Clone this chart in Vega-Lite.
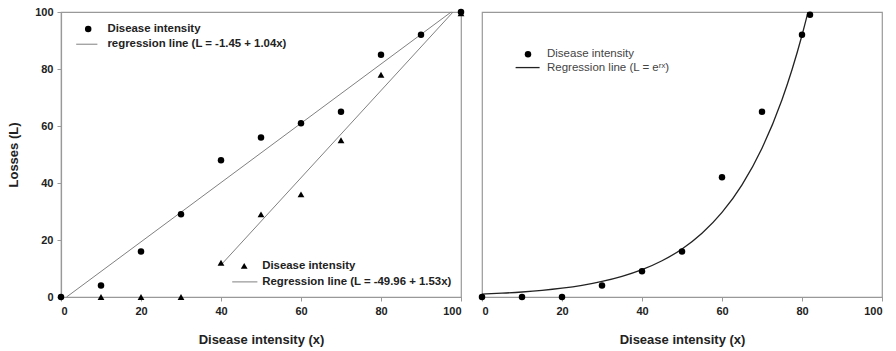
{
  "$schema": "https://vega.github.io/schema/vega-lite/v6.json",
  "background": "white",
  "padding": {"left": 7, "top": 5, "right": 0, "bottom": 0},
  "bounds": "flush",
  "spacing": 21,
  "config": {
    "view": {"stroke": "#999", "strokeWidth": 1.2},
    "axis": {
      "grid": false,
      "labelFont": "Liberation Sans",
      "labelFontWeight": "bold",
      "labelFontSize": 11,
      "labelColor": "#222",
      "titleFont": "Liberation Sans",
      "titleFontWeight": "bold",
      "titleFontSize": 13,
      "titleColor": "#222",
      "domainColor": "#999",
      "domainWidth": 1.2,
      "tickColor": "#999",
      "tickSize": 4
    },
    "text": {"font": "Liberation Sans", "fontSize": 11, "baseline": "middle", "align": "left"}
  },
  "datasets": {
    "circles": [
      {"x": 0, "L": 0}, {"x": 10, "L": 4}, {"x": 20, "L": 16}, {"x": 30, "L": 29},
      {"x": 40, "L": 48}, {"x": 50, "L": 56}, {"x": 60, "L": 61}, {"x": 70, "L": 65},
      {"x": 80, "L": 85}, {"x": 90, "L": 92}, {"x": 100, "L": 100}
    ],
    "triangles": [
      {"x": 10, "L": 0}, {"x": 20, "L": 0}, {"x": 30, "L": 0}, {"x": 40, "L": 12},
      {"x": 50, "L": 29}, {"x": 60, "L": 36}, {"x": 70, "L": 55}, {"x": 80, "L": 78},
      {"x": 100, "L": 99.5}
    ],
    "fitLinear": [
      {"fit": "a", "x": 1.39, "L": 0}, {"fit": "a", "x": 97.55, "L": 100},
      {"fit": "b", "x": 40, "L": 11.24}, {"fit": "b", "x": 98.01, "L": 100}
    ],
    "expPoints": [
      {"x": 0, "L": 0}, {"x": 10, "L": 0}, {"x": 20, "L": 0}, {"x": 30, "L": 4},
      {"x": 40, "L": 9}, {"x": 50, "L": 16}, {"x": 60, "L": 42}, {"x": 70, "L": 65},
      {"x": 80, "L": 92}, {"x": 82, "L": 99}
    ],
    "expCurve": [
      {"x": 0, "L": 1.0}, {"x": 5, "L": 1.33}, {"x": 10, "L": 1.76}, {"x": 15, "L": 2.33},
      {"x": 20, "L": 3.10}, {"x": 25, "L": 4.11}, {"x": 30, "L": 5.45}, {"x": 35, "L": 7.23},
      {"x": 40, "L": 9.58}, {"x": 45, "L": 12.71}, {"x": 50, "L": 16.86}, {"x": 55, "L": 22.37},
      {"x": 60, "L": 29.67}, {"x": 65, "L": 39.36}, {"x": 70, "L": 52.2}, {"x": 75, "L": 69.24},
      {"x": 77.5, "L": 79.74}, {"x": 80, "L": 91.84}, {"x": 81.5, "L": 99.96}
    ],
    "one": [{}]
  },
  "hconcat": [
    {
      "width": 400,
      "height": 285,
      "encoding": {
        "x": {"type": "quantitative", "scale": {"domain": [0, 100], "nice": false},
              "axis": {"values": [0, 20, 40, 60, 80, 100], "labelPadding": 4, "titlePadding": 17, "title": "Disease intensity (x)"}},
        "y": {"type": "quantitative", "scale": {"domain": [0, 100], "nice": false},
              "axis": {"values": [0, 20, 40, 60, 80, 100], "labelPadding": 4, "titlePadding": 14, "title": "Losses (L)"}}
      },
      "layer": [
        {
          "data": {"name": "fitLinear"},
          "mark": {"type": "line", "color": "#808080", "strokeWidth": 1},
          "encoding": {"x": {"field": "x"}, "y": {"field": "L"}, "detail": {"field": "fit"}}
        },
        {
          "data": {"name": "circles"},
          "mark": {"type": "point", "shape": "circle", "filled": true, "color": "black", "opacity": 1, "size": 42},
          "encoding": {"x": {"field": "x"}, "y": {"field": "L"}}
        },
        {
          "data": {"name": "triangles"},
          "mark": {"type": "point", "shape": "triangle-up", "filled": true, "color": "black", "opacity": 1, "size": 46},
          "encoding": {"x": {"field": "x"}, "y": {"field": "L"}}
        },
        {
          "data": {"name": "one"},
          "mark": {"type": "point", "shape": "circle", "filled": true, "color": "black", "opacity": 1, "size": 42},
          "encoding": {"x": {"datum": 6.8}, "y": {"datum": 94}}
        },
        {
          "data": {"name": "one"},
          "mark": {"type": "rule", "color": "#808080", "strokeWidth": 1},
          "encoding": {"x": {"datum": 3.8}, "x2": {"datum": 9.1}, "y": {"datum": 88.7}}
        },
        {
          "data": {"name": "one"},
          "mark": {"type": "text", "fontWeight": "bold", "color": "#222", "fontSize": 11.4},
          "encoding": {"x": {"datum": 11.6}, "y": {"datum": 94}, "text": {"value": "Disease intensity"}}
        },
        {
          "data": {"name": "one"},
          "mark": {"type": "text", "fontWeight": "bold", "color": "#222", "fontSize": 11.4},
          "encoding": {"x": {"datum": 11.6}, "y": {"datum": 88.7}, "text": {"value": "regression line (L = -1.45 + 1.04x)"}}
        },
        {
          "data": {"name": "one"},
          "mark": {"type": "point", "shape": "triangle-up", "filled": true, "color": "black", "opacity": 1, "size": 46},
          "encoding": {"x": {"datum": 45.8}, "y": {"datum": 10.9}}
        },
        {
          "data": {"name": "one"},
          "mark": {"type": "rule", "color": "#808080", "strokeWidth": 1},
          "encoding": {"x": {"datum": 42.8}, "x2": {"datum": 49.1}, "y": {"datum": 5.3}}
        },
        {
          "data": {"name": "one"},
          "mark": {"type": "text", "fontWeight": "bold", "color": "#222", "fontSize": 11.4},
          "encoding": {"x": {"datum": 50.3}, "y": {"datum": 10.9}, "text": {"value": "Disease intensity"}}
        },
        {
          "data": {"name": "one"},
          "mark": {"type": "text", "fontWeight": "bold", "color": "#222", "fontSize": 11.4},
          "encoding": {"x": {"datum": 50.3}, "y": {"datum": 5.3}, "text": {"value": "Regression line (L = -49.96 + 1.53x)"}}
        }
      ]
    },
    {
      "width": 400,
      "height": 285,
      "encoding": {
        "x": {"type": "quantitative", "scale": {"domain": [0, 100], "nice": false},
              "axis": {"values": [0, 20, 40, 60, 80, 100], "labelPadding": 4, "titlePadding": 17, "title": "Disease intensity (x)"}},
        "y": {"type": "quantitative", "scale": {"domain": [0, 100], "nice": false}, "axis": null}
      },
      "layer": [
        {
          "data": {"name": "expCurve"},
          "mark": {"type": "line", "color": "#222", "strokeWidth": 1.3, "interpolate": "monotone"},
          "encoding": {"x": {"field": "x"}, "y": {"field": "L"}}
        },
        {
          "data": {"name": "expPoints"},
          "mark": {"type": "point", "shape": "circle", "filled": true, "color": "black", "opacity": 1, "size": 42},
          "encoding": {"x": {"field": "x"}, "y": {"field": "L"}}
        },
        {
          "data": {"name": "one"},
          "mark": {"type": "point", "shape": "circle", "filled": true, "color": "black", "opacity": 1, "size": 42},
          "encoding": {"x": {"datum": 11.5}, "y": {"datum": 85.2}}
        },
        {
          "data": {"name": "one"},
          "mark": {"type": "rule", "color": "#222", "strokeWidth": 1.3},
          "encoding": {"x": {"datum": 8.4}, "x2": {"datum": 14.4}, "y": {"datum": 80.5}}
        },
        {
          "data": {"name": "one"},
          "mark": {"type": "text", "color": "#444", "fontSize": 11.5},
          "encoding": {"x": {"datum": 16.25}, "y": {"datum": 85.2}, "text": {"value": "Disease intensity"}}
        },
        {
          "data": {"name": "one"},
          "mark": {"type": "text", "color": "#444", "fontSize": 11.5},
          "encoding": {"x": {"datum": 16.25}, "y": {"datum": 80.5}, "text": {"value": "Regression line (L = eʳˣ)"}}
        }
      ]
    }
  ]
}
